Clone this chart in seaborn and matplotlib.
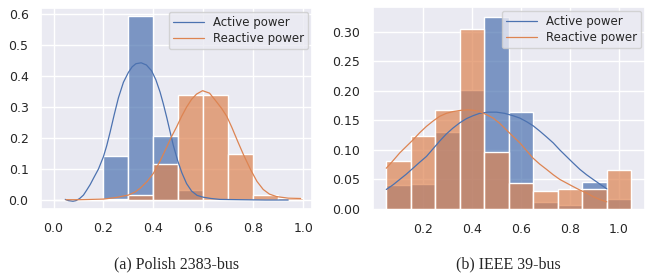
import numpy as np
import pandas as pd
import matplotlib
matplotlib.use('Agg')
import matplotlib.pyplot as plt
import seaborn as sns

sns.set_theme(style='darkgrid', palette='deep')
plt.rcParams['font.family'] = ['DejaVu Sans']

# (a) Polish 2383-bus: histogram bins (probability per bin)
pl_edges = [0.0, 0.1, 0.2, 0.3, 0.4, 0.5, 0.6, 0.7, 0.8, 0.9, 1.0]
pl_active = [0.0, 0.002, 0.143, 0.595, 0.208, 0.032, 0.004, 0.001, 0.001, 0.0]
pl_reactive = [0.0, 0.004, 0.003, 0.017, 0.116, 0.340, 0.340, 0.149, 0.016, 0.008]

# fitted curves
pl_act_x = [0.047, 0.06, 0.078, 0.09, 0.105, 0.12, 0.133, 0.147, 0.16, 0.18, 0.2, 0.213,
            0.227, 0.243, 0.26, 0.28, 0.30, 0.315, 0.33, 0.351, 0.372, 0.393, 0.41, 0.427,
            0.44, 0.454, 0.467, 0.48, 0.497, 0.514, 0.533, 0.553, 0.575, 0.60, 0.63, 0.667,
            0.75, 0.85, 0.94]
pl_act_y = [0.002, -0.002, -0.004, -0.002, 0.005, 0.016, 0.032, 0.05, 0.07, 0.10, 0.14, 0.175,
            0.22, 0.275, 0.33, 0.38, 0.412, 0.43, 0.44, 0.443, 0.436, 0.417, 0.388, 0.348,
            0.31, 0.265, 0.22, 0.176, 0.128, 0.088, 0.053, 0.029, 0.015, 0.009, 0.005, 0.002,
            0.001, 0.0, 0.0]
pl_rea_x = [0.05, 0.1, 0.15, 0.2, 0.25, 0.3, 0.325, 0.347, 0.375, 0.40, 0.427, 0.454, 0.473,
            0.493, 0.513, 0.533, 0.553, 0.573, 0.597, 0.625, 0.653, 0.674, 0.694, 0.714, 0.74,
            0.76, 0.79, 0.815, 0.84, 0.865, 0.894, 0.94, 0.99]
pl_rea_y = [0.001, 0.001, 0.002, 0.003, 0.008, 0.016, 0.025, 0.038, 0.06, 0.086, 0.126, 0.172,
            0.205, 0.236, 0.27, 0.30, 0.325, 0.342, 0.353, 0.345, 0.317, 0.295, 0.27, 0.235,
            0.185, 0.148, 0.097, 0.06, 0.034, 0.019, 0.011, 0.006, 0.005]

# (b) IEEE 39-bus
ie_edges = [0.05, 0.15, 0.25, 0.35, 0.45, 0.55, 0.65, 0.75, 0.85, 0.95, 1.05]
ie_active = [0.040, 0.042, 0.130, 0.202, 0.325, 0.164, 0.011, 0.006, 0.045, 0.016]
ie_reactive = [0.082, 0.124, 0.167, 0.305, 0.096, 0.044, 0.030, 0.033, 0.034, 0.066]

ie_act_x = [0.05, 0.078, 0.105, 0.132, 0.159, 0.186, 0.214, 0.241, 0.268, 0.295, 0.322, 0.35,
            0.377, 0.404, 0.431, 0.465, 0.50, 0.533, 0.567, 0.595, 0.622, 0.649, 0.676, 0.704,
            0.731, 0.758, 0.785, 0.812, 0.84, 0.867, 0.894, 0.922, 0.95]
ie_act_y = [0.033, 0.041, 0.05, 0.059, 0.069, 0.079, 0.089, 0.102, 0.115, 0.127, 0.137, 0.146,
            0.153, 0.158, 0.162, 0.164, 0.164, 0.162, 0.158, 0.154, 0.148, 0.141, 0.132, 0.122,
            0.112, 0.1, 0.089, 0.078, 0.067, 0.058, 0.05, 0.042, 0.034]
ie_rea_x = [0.05, 0.078, 0.105, 0.132, 0.159, 0.186, 0.214, 0.241, 0.268, 0.295, 0.322, 0.353,
            0.384, 0.408, 0.431, 0.458, 0.486, 0.513, 0.54, 0.567, 0.595, 0.622, 0.649, 0.676,
            0.704, 0.731, 0.758, 0.785, 0.812, 0.84, 0.867, 0.894, 0.921, 0.95]
ie_rea_y = [0.069, 0.082, 0.095, 0.106, 0.117, 0.129, 0.14, 0.149, 0.157, 0.162, 0.165, 0.167,
            0.168, 0.167, 0.165, 0.16, 0.154, 0.145, 0.134, 0.123, 0.112, 0.099, 0.086, 0.076,
            0.067, 0.058, 0.05, 0.044, 0.038, 0.032, 0.027, 0.021, 0.016, 0.012]

captions = ['(a) Polish 2383-bus', '(b) IEEE 39-bus']
blue, orange = sns.color_palette('deep')[0], sns.color_palette('deep')[1]

fig = plt.figure(figsize=(6.45, 2.75), dpi=100)
ax1 = fig.add_axes([0.0636, 0.24, 0.420, 0.731])
ax2 = fig.add_axes([0.578, 0.236, 0.4217, 0.738])


def centers(edges):
    return [(a + b) / 2 for a, b in zip(edges[:-1], edges[1:])]


def panel(ax, edges, act, rea, ax_x, ax_y, rx, ry):
    c = centers(edges)
    sns.histplot(x=c, weights=act, bins=edges, color=blue, alpha=0.7,
                 edgecolor='white', linewidth=1, ax=ax)
    sns.histplot(x=c, weights=rea, bins=edges, color=orange, alpha=0.7,
                 edgecolor='white', linewidth=1, ax=ax)
    sns.lineplot(x=ax_x, y=ax_y, color=blue, lw=0.9, label='Active power', ax=ax)
    sns.lineplot(x=rx, y=ry, color=orange, lw=0.9, label='Reactive power', ax=ax)
    ax.set_xlabel('')
    ax.set_ylabel('')
    ax.tick_params(labelsize=9, pad=3, colors='#262626')
    ax.legend(loc='upper right', fontsize=8.5, handlelength=2.6,
              borderpad=0.35, labelspacing=0.3, borderaxespad=0.3)


panel(ax1, pl_edges, pl_active, pl_reactive, pl_act_x, pl_act_y, pl_rea_x, pl_rea_y)
ax1.set_xlim(-0.05, 1.035)
ax1.set_ylim(-0.029, 0.62)
ax1.set_xticks([0.0, 0.2, 0.4, 0.6, 0.8, 1.0])
ax1.set_yticks([0.0, 0.1, 0.2, 0.3, 0.4, 0.5, 0.6])
ax1.set_yticklabels([f'{v:.1f}' for v in ax1.get_yticks()])

panel(ax2, ie_edges, ie_active, ie_reactive, ie_act_x, ie_act_y, ie_rea_x, ie_rea_y)
ax2.set_xlim(-0.005, 1.105)
ax2.set_ylim(-0.002, 0.342)
ax2.set_xticks([0.2, 0.4, 0.6, 0.8, 1.0])
ax2.set_yticks([0.0, 0.05, 0.10, 0.15, 0.20, 0.25, 0.30])
ax2.set_yticklabels([f'{v:.2f}' for v in ax2.get_yticks()])

for ax, cap in zip([ax1, ax2], captions):
    pos = ax.get_position()
    fig.text((pos.x0 + pos.x1) / 2, 0.04, cap, ha='center', va='center',
             family=['Liberation Serif', 'DejaVu Serif'], fontsize=11.5)

fig.savefig('out.png', dpi=100)
